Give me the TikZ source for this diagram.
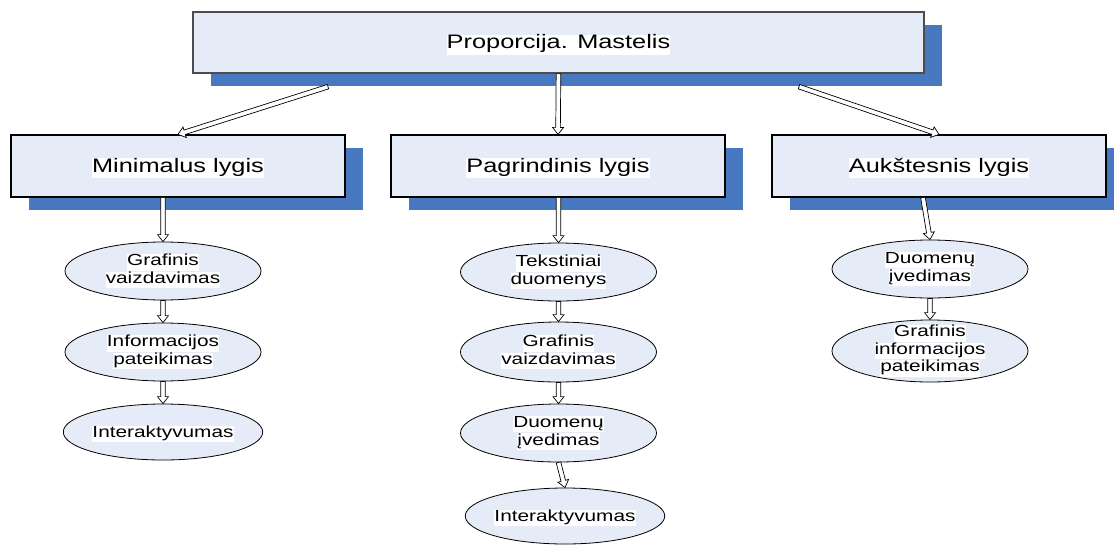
\documentclass[tikz,border=0pt]{standalone}
\usepackage{fontspec}
\setmainfont{Liberation Sans}[FakeStretch=1.3]
\usetikzlibrary{shadows,calc,shapes.geometric}

\definecolor{boxfill}{RGB}{230,236,247}
\definecolor{shadowblue}{RGB}{71,120,192}

% white highlight behind each line of text
\newcommand\hl[1]{{\setlength\fboxsep{0pt}\colorbox{white}{\strut #1}}}

% hollow block arrow from #1 to #2
\newcommand\hollowarrow[2]{%
  \coordinate (ha-h) at ($(#2)!7pt!(#1)$);
  \draw[harrow] (#2) -- ($(ha-h)!5.5pt!90:(#2)$) -- ($(ha-h)!2.3pt!90:(#2)$)
    -- ($(#1)!2.3pt!90:(#2)$) -- ($(#1)!2.3pt!-90:(#2)$)
    -- ($(ha-h)!2.3pt!-90:(#2)$) -- ($(ha-h)!5.5pt!-90:(#2)$) -- cycle;
}

\tikzset{
  shadowbox/.style={rectangle, fill=boxfill, inner sep=0pt,
    drop shadow={shadow xshift=18pt, shadow yshift=-13pt, fill=shadowblue, opacity=1},
    font=\fontsize{19.5}{19.5}\selectfont,
    execute at begin node={\rule{0pt}{18.3pt}}},
  topbox/.style={shadowbox, draw=black!70, line width=1.3pt,
    minimum width=731pt, minimum height=61pt},
  levelbox/.style={shadowbox, draw=black, line width=1.2pt,
    minimum width=334pt, minimum height=62pt},
  ell/.style={ellipse, draw=black, line width=0.8pt, fill=boxfill,
    minimum width=196pt, minimum height=58pt, inner sep=0pt, align=center,
    font=\fontsize{16}{16.3}\selectfont,
    execute at begin node={\rule{0pt}{15.6pt}}},
  harrow/.style={draw=black, line width=0.7pt, fill=white, line join=miter},
}

\begin{document}
\begin{tikzpicture}[x=1pt, y=-1pt]
\useasboundingbox (0,0) rectangle (1114,544);

% title and levels
\node[topbox] (top) at (558.5,42.5) {\hl{Proporcija. Mastelis}};
\node[levelbox] (lvl1) at (178,166) {\hl{Minimalus lygis}};
\node[levelbox] (lvl2) at (558,166) {\hl{Pagrindinis lygis}};
\node[levelbox] (lvl3) at (939,166) {\hl{Aukštesnis lygis}};

% minimal level
\node[ell] (l1) at (163,271) {\hl{Grafinis}\\\hl{vaizdavimas}};
\node[ell] (l2) at (163,352) {\hl{Informacijos}\\\hl{pateikimas}};
\node[ell, minimum height=56pt] (l3) at (163,432) {\hl{Interaktyvumas}};

% basic level
\node[ell] (m1) at (558.5,272) {\hl{Tekstiniai}\\\hl{duomenys}};
\node[ell, minimum height=60pt] (m2) at (558.5,352) {\hl{Grafinis}\\\hl{vaizdavimas}};
\node[ell] (m3) at (558.5,433) {\hl{Duomenų}\\\hl{įvedimas}};
\node[ell, minimum height=56pt] (m4) at (565,516) {\hl{Interaktyvumas}};

% higher level
\node[ell] (r1) at (930,269) {\hl{Duomenų}\\\hl{įvedimas}};
\node[ell, minimum height=62pt, inner ysep=-12pt] (r2) at (930,351)
  {\hl{Grafinis}\\\hl{informacijos}\\\hl{pateikimas}};

% connectors
\coordinate (a1) at ([xshift=-230.5pt,yshift=-13pt]top.south);
\coordinate (a3) at ([xshift=240.5pt,yshift=-13pt]top.south);
\hollowarrow{a1}{lvl1.north}
\hollowarrow{top.south}{lvl2.north}
\hollowarrow{a3}{lvl3.north}

\coordinate (b1) at (lvl1.south -| l1.north);
\coordinate (b2) at (lvl2.south -| m1.north);
\coordinate (b3) at (lvl3.south -| r1.north);
\coordinate (b3s) at ([xshift=-7pt]b3);

\hollowarrow{b1}{l1.north}
\hollowarrow{l1.south}{l2.north}
\hollowarrow{l2.south}{l3.north}

\hollowarrow{b2}{m1.north}
\hollowarrow{m1.south}{m2.north}
\hollowarrow{m2.south}{m3.north}
\hollowarrow{m3.south}{m4.north}

\hollowarrow{b3s}{r1.north}
\hollowarrow{r1.south}{r2.north}
\end{tikzpicture}
\end{document}
